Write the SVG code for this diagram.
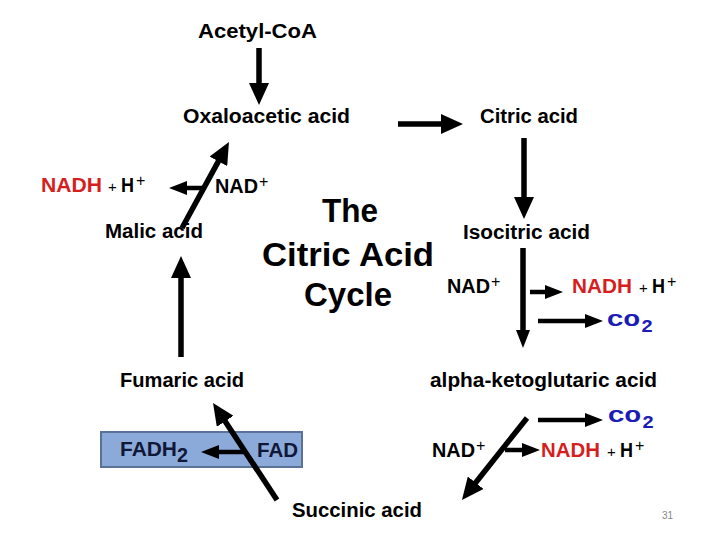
<svg xmlns="http://www.w3.org/2000/svg" width="720" height="540" viewBox="0 0 720 540">
<style>
text{font-family:"Liberation Sans",Arial,sans-serif;font-weight:bold;fill:#000}
.lbl{font-size:20px}
.ttl{font-size:34px}
.red{fill:#d61e1e}
.blue{fill:#1c1cb4;font-family:"Liberation Mono","DejaVu Sans Mono",monospace;font-size:18px}
.plus{font-size:15px;font-weight:normal}
.sup{font-size:16px;font-weight:normal}
.main{stroke:#000;stroke-width:5.5;fill:none}
.side{stroke:#000;stroke-width:4.5;fill:none}
.fad{fill:#101838}
</style>
<defs>
<marker id="big" viewBox="0 0 22 20" refX="1" refY="10" markerWidth="22" markerHeight="20" markerUnits="userSpaceOnUse" orient="auto"><path d="M0,0 L22,10 L0,20 z" fill="#000"/></marker>
<marker id="small" viewBox="0 0 18 14" refX="1" refY="7" markerWidth="18" markerHeight="14" markerUnits="userSpaceOnUse" orient="auto"><path d="M0,0 L18,7 L0,14 z" fill="#000"/></marker>
</defs>
<rect width="720" height="540" fill="#fff"/>
<g id="fad-box">
<rect x="101" y="432" width="201" height="35" fill="#8caad9" stroke="#5b7298" stroke-width="2"/>
<text class="lbl fad" x="120" y="456" textLength="57" lengthAdjust="spacingAndGlyphs">FADH</text>
<text class="lbl fad" x="177" y="462" textLength="11" lengthAdjust="spacingAndGlyphs">2</text>
<text class="lbl fad" x="257" y="457" textLength="41" lengthAdjust="spacingAndGlyphs">FAD</text>
</g>
<g id="connectors">
<line class="main" x1="259" y1="48" x2="259" y2="84" marker-end="url(#big)"/>
<line class="main" x1="398" y1="124" x2="442" y2="124" marker-end="url(#big)"/>
<line class="main" x1="524" y1="138" x2="524" y2="198" marker-end="url(#big)"/>
<line class="main" x1="523" y1="248" x2="523" y2="331" marker-end="url(#small)"/>
<line class="side" x1="530" y1="292" x2="546" y2="292" marker-end="url(#small)"/>
<line class="side" x1="538" y1="321" x2="586" y2="321" marker-end="url(#small)"/>
<line class="main" x1="527" y1="418" x2="475" y2="483.5" marker-end="url(#big)"/>
<line class="side" x1="538" y1="420" x2="586" y2="420" marker-end="url(#small)"/>
<line class="side" x1="505" y1="450" x2="523" y2="450" marker-end="url(#small)"/>
<line class="main" x1="277" y1="500" x2="224.6" y2="420.5" marker-end="url(#big)"/>
<line class="side" x1="244" y1="452" x2="218" y2="452" marker-end="url(#small)"/>
<line class="main" x1="181" y1="357" x2="181" y2="277" marker-end="url(#big)"/>
<line class="main" x1="182" y1="228" x2="218.9" y2="160.4" marker-end="url(#big)"/>
<line class="side" x1="203" y1="188" x2="186" y2="188" marker-end="url(#small)"/>
</g>
<g id="acetyl-coa"><text class="lbl" x="198" y="38" textLength="119" lengthAdjust="spacingAndGlyphs">Acetyl-CoA</text></g>
<g id="oxaloacetic-acid"><text class="lbl" x="183" y="123" textLength="167" lengthAdjust="spacingAndGlyphs">Oxaloacetic acid</text></g>
<g id="citric-acid"><text class="lbl" x="480" y="123" textLength="98" lengthAdjust="spacingAndGlyphs">Citric acid</text></g>
<g id="isocitric-acid"><text class="lbl" x="463" y="239" textLength="127" lengthAdjust="spacingAndGlyphs">Isocitric acid</text></g>
<g id="malic-acid"><text class="lbl" x="105" y="238" textLength="98" lengthAdjust="spacingAndGlyphs">Malic acid</text></g>
<g id="fumaric-acid"><text class="lbl" x="120" y="387" textLength="124" lengthAdjust="spacingAndGlyphs">Fumaric acid</text></g>
<g id="alpha-ketoglutaric-acid"><text class="lbl" x="430" y="387" textLength="227" lengthAdjust="spacingAndGlyphs">alpha-ketoglutaric acid</text></g>
<g id="succinic-acid"><text class="lbl" x="292" y="517" textLength="130" lengthAdjust="spacingAndGlyphs">Succinic acid</text></g>
<g id="title">
<text class="ttl" x="322" y="222" textLength="56" lengthAdjust="spacingAndGlyphs">The</text>
<text class="ttl" x="262" y="266" textLength="172" lengthAdjust="spacingAndGlyphs">Citric Acid</text>
<text class="ttl" x="304" y="306" textLength="88" lengthAdjust="spacingAndGlyphs">Cycle</text>
</g>
<g id="nadh-left">
<text class="lbl red" x="41" y="192" textLength="61" lengthAdjust="spacingAndGlyphs">NADH</text>
<text class="plus" x="108" y="192">+</text>
<text class="lbl" x="121" y="192" textLength="13" lengthAdjust="spacingAndGlyphs">H</text>
<text class="sup" x="136" y="186">+</text>
</g>
<g id="nad-left">
<text class="lbl" x="215" y="193" textLength="43" lengthAdjust="spacingAndGlyphs">NAD</text>
<text class="sup" x="259" y="187">+</text>
</g>
<g id="nad-right">
<text class="lbl" x="447" y="293" textLength="43" lengthAdjust="spacingAndGlyphs">NAD</text>
<text class="sup" x="491" y="287">+</text>
</g>
<g id="nadh-right">
<text class="lbl red" x="572" y="293" textLength="60" lengthAdjust="spacingAndGlyphs">NADH</text>
<text class="plus" x="639" y="293">+</text>
<text class="lbl" x="652" y="293" textLength="13" lengthAdjust="spacingAndGlyphs">H</text>
<text class="sup" x="667" y="287">+</text>
</g>
<g id="co2-upper">
<text class="blue" x="607" y="326" textLength="33" lengthAdjust="spacingAndGlyphs">CO</text>
<text class="blue" x="641" y="332" textLength="12" lengthAdjust="spacingAndGlyphs">2</text>
</g>
<g id="co2-lower">
<text class="blue" x="608" y="422" textLength="33" lengthAdjust="spacingAndGlyphs">CO</text>
<text class="blue" x="642" y="428" textLength="12" lengthAdjust="spacingAndGlyphs">2</text>
</g>
<g id="nad-lower">
<text class="lbl" x="432" y="457" textLength="43" lengthAdjust="spacingAndGlyphs">NAD</text>
<text class="sup" x="476" y="451">+</text>
</g>
<g id="nadh-lower">
<text class="lbl red" x="541" y="457" textLength="59" lengthAdjust="spacingAndGlyphs">NADH</text>
<text class="plus" x="607" y="457">+</text>
<text class="lbl" x="620" y="457" textLength="13" lengthAdjust="spacingAndGlyphs">H</text>
<text class="sup" x="635" y="451">+</text>
</g>
<g id="page-number"><text x="662" y="519" style="font-size:10px;font-weight:normal;fill:#888">31</text></g>
</svg>
